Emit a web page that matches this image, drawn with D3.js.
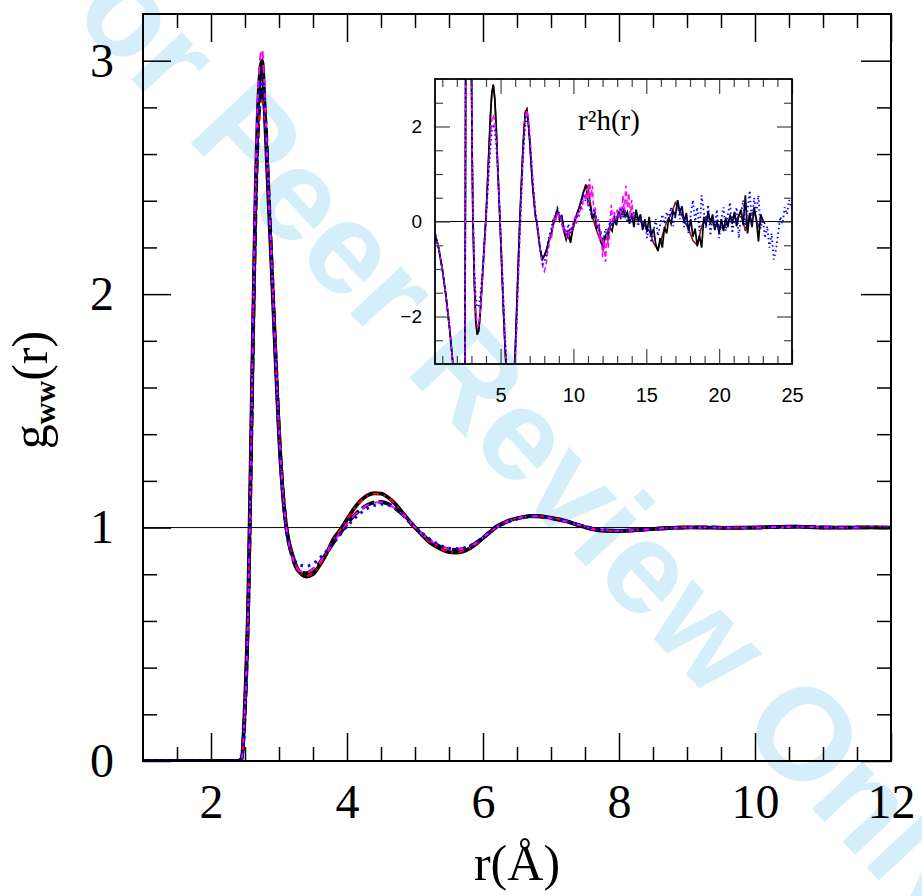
<!DOCTYPE html>
<html>
<head>
<meta charset="utf-8">
<script src="https://cdn.jsdelivr.net/npm/d3@7"></script>
<style>
  body { margin: 0; background: #fff; }
  svg { display: block; }
</style>
</head>
<body>
<div id="chart"></div>
<script>
(function () {
  const W = 922, H = 896;

  // ---- main panel data: g_ww(r) ----
  const rMain = [1.0, 2.3, 2.4, 2.45,
    2.5, 2.55, 2.6, 2.65, 2.7, 2.75, 2.8, 2.85, 2.9, 2.95, 3.0, 3.05, 3.1,
    3.2, 3.3, 3.4, 3.5, 3.6, 3.7, 3.8, 3.9, 4.0, 4.1, 4.2, 4.3, 4.4, 4.5, 4.6, 4.7, 4.8, 4.9,
    5.0, 5.1, 5.2, 5.3, 5.4, 5.5, 5.6, 5.7, 5.8, 5.9, 6.0, 6.1, 6.2, 6.3, 6.4, 6.5, 6.6, 6.7, 6.8, 6.9, 7.0,
    7.2, 7.4, 7.6, 7.8, 8.0, 8.2, 8.4, 8.6, 8.8, 9.0,
    9.3, 9.6, 10.0, 10.3, 10.6, 11.0, 11.4, 11.7, 12.0];

  const gSolid = [0, 0, 0, 0.01,
    0.25, 0.72, 1.55, 2.35, 2.85, 3.0, 2.72, 2.38, 2.06, 1.72, 1.40, 1.17, 1.02,
    0.88, 0.81, 0.79, 0.80, 0.84, 0.89, 0.95, 0.99, 1.035, 1.08, 1.115, 1.138, 1.147, 1.145, 1.13, 1.105, 1.07, 1.035,
    1.0, 0.97, 0.94, 0.92, 0.905, 0.895, 0.893, 0.897, 0.91, 0.93, 0.955, 0.98, 1.005, 1.02, 1.032, 1.04, 1.046, 1.05, 1.05, 1.047, 1.042,
    1.03, 1.01, 0.993, 0.986, 0.985, 0.988, 0.992, 0.996, 0.999, 1.001,
    1.0, 0.999, 1.0, 1.003, 1.004, 1.0, 1.0, 1.001, 1.0];

  const gDashed = [0, 0, 0, 0.01,
    0.22, 0.68, 1.5, 2.28, 2.75, 2.88, 2.75, 2.42, 2.08, 1.74, 1.42, 1.18, 1.02,
    0.87, 0.81, 0.805, 0.82, 0.85, 0.89, 0.935, 0.975, 1.015, 1.05, 1.078, 1.097, 1.108, 1.11, 1.102, 1.085, 1.06, 1.03,
    1.0, 0.972, 0.948, 0.93, 0.915, 0.907, 0.905, 0.908, 0.918, 0.935, 0.957, 0.98, 1.002, 1.018, 1.03, 1.039, 1.045, 1.048, 1.048, 1.045, 1.04,
    1.028, 1.012, 0.996, 0.988, 0.986, 0.988, 0.992, 0.996, 0.999, 1.0,
    1.001, 0.999, 1.0, 1.002, 1.004, 1.001, 1.0, 1.0, 1.0];

  const gRed = [0, 0, 0, 0.01,
    0.24, 0.70, 1.52, 2.3, 2.72, 2.83, 2.7, 2.4, 2.07, 1.73, 1.41, 1.17, 1.02,
    0.88, 0.812, 0.792, 0.802, 0.842, 0.892, 0.95, 0.99, 1.034, 1.078, 1.113, 1.136, 1.145, 1.143, 1.128, 1.104, 1.07, 1.036,
    1.001, 0.971, 0.942, 0.921, 0.906, 0.897, 0.894, 0.898, 0.91, 0.93, 0.955, 0.98, 1.004, 1.02, 1.032, 1.04, 1.046, 1.049, 1.05, 1.047, 1.042,
    1.03, 1.011, 0.994, 0.987, 0.985, 0.988, 0.992, 0.996, 0.999, 1.001,
    1.0, 1.0, 1.0, 1.002, 1.004, 1.0, 1.0, 1.001, 1.0];

  const gMagenta = [0, 0, 0, 0.01,
    0.23, 0.70, 1.55, 2.4, 2.92, 3.05, 2.78, 2.42, 2.08, 1.74, 1.42, 1.18, 1.02,
    0.87, 0.815, 0.808, 0.822, 0.852, 0.892, 0.936, 0.977, 1.016, 1.05, 1.077, 1.096, 1.107, 1.108, 1.1, 1.084, 1.06, 1.031,
    1.001, 0.973, 0.949, 0.931, 0.917, 0.908, 0.906, 0.909, 0.918, 0.935, 0.957, 0.98, 1.002, 1.018, 1.03, 1.039, 1.045, 1.048, 1.048, 1.045, 1.04,
    1.028, 1.012, 0.996, 0.988, 0.986, 0.988, 0.992, 0.996, 0.999, 1.0,
    1.001, 0.999, 1.0, 1.002, 1.004, 1.001, 1.0, 1.0, 1.0];

  const gBlue = [0, 0, 0, 0.01,
    0.22, 0.68, 1.5, 2.3, 2.8, 2.93, 2.74, 2.4, 2.06, 1.72, 1.40, 1.16, 1.0,
    0.88, 0.84, 0.835, 0.845, 0.87, 0.9, 0.935, 0.97, 1.005, 1.035, 1.062, 1.082, 1.095, 1.10, 1.097, 1.085, 1.062, 1.035,
    1.005, 0.978, 0.954, 0.935, 0.92, 0.912, 0.909, 0.912, 0.92, 0.936, 0.957, 0.98, 1.0, 1.016, 1.028, 1.037, 1.043, 1.046, 1.047, 1.045, 1.04,
    1.028, 1.013, 0.998, 0.99, 0.987, 0.989, 0.992, 0.996, 0.999, 1.0,
    1.0, 1.0, 0.999, 1.002, 1.004, 1.001, 1.0, 1.001, 1.0];

  // ---- inset data: r^2 h(r) ----
  const rInsetSmooth = [0.5, 0.75, 1.0, 1.25, 1.5, 1.75, 2.0, 2.3, 2.5, 2.55, 2.58, 2.61, 2.95, 3.0, 3.05, 3.1,
    3.2, 3.3, 3.4, 3.5, 3.6, 3.7, 3.8, 3.9, 4.0, 4.1, 4.2, 4.3, 4.4, 4.5, 4.6, 4.7, 4.8, 4.9,
    5.0, 5.1, 5.2, 5.3, 5.4, 5.5, 5.6, 5.7, 5.8, 5.9, 6.0, 6.1, 6.2, 6.3, 6.4, 6.5, 6.6, 6.7, 6.8, 6.9,
    7.0, 7.1, 7.2, 7.3, 7.4, 7.5, 7.6, 7.7, 7.8, 7.9, 8.0];

  const hBlackSmooth = [-0.25, -0.56, -1.0, -1.56, -2.25, -3.06, -4.0, -5.3, -6.2, -3.0, 0.0, 4.0, 6.0, 3.2, 1.4, 0.1,
    -1.3, -2.1, -2.38, -2.3, -1.95, -1.45, -0.95, -0.4, 0.1, 0.8, 1.5, 2.2, 2.7, 2.88, 2.6, 2.0, 1.2, 0.45,
    -0.3, -1.1, -1.9, -2.6, -3.2, -3.6, -3.8, -3.8, -3.6, -3.3, -2.8, -1.9, -1.0, -0.15, 0.6, 1.3, 1.9, 2.3, 2.36, 2.1,
    1.7, 1.2, 0.75, 0.4, 0.1, -0.05, -0.3, -0.55, -0.7, -0.78, -0.72];

  const hMagentaSmooth = [-0.25, -0.56, -1.0, -1.56, -2.25, -3.06, -4.0, -5.3, -6.2, -3.2, -0.2, 3.8, 6.3, 3.6, 1.6, 0.3,
    -1.1, -1.9, -2.2, -2.2, -1.9, -1.45, -1.0, -0.5, 0.0, 0.6, 1.2, 1.75, 2.15, 2.25, 2.1, 1.75, 1.2, 0.5,
    -0.2, -0.9, -1.7, -2.4, -3.0, -3.5, -3.8, -3.9, -3.8, -3.5, -3.05, -2.3, -1.4, -0.5, 0.35, 1.1, 1.7, 2.2, 2.35, 2.2,
    1.85, 1.4, 0.95, 0.55, 0.2, 0.0, -0.25, -0.55, -0.8, -0.95, -1.05];

  const hBlueSmooth = [-0.25, -0.56, -1.0, -1.56, -2.25, -3.06, -4.0, -5.3, -6.2, -3.1, -0.1, 3.9, 6.2, 3.5, 1.5, 0.2,
    -1.0, -1.6, -1.8, -1.8, -1.6, -1.25, -0.85, -0.4, 0.05, 0.55, 1.05, 1.55, 1.9, 2.0, 1.95, 1.6, 1.1, 0.45,
    -0.25, -0.95, -1.7, -2.35, -2.95, -3.4, -3.7, -3.8, -3.7, -3.4, -2.9, -2.1, -1.2, -0.35, 0.4, 1.1, 1.65, 2.05, 2.2, 2.05,
    1.75, 1.3, 0.85, 0.5, 0.15, -0.05, -0.3, -0.55, -0.75, -0.9, -0.85];

  // noisy tails, sampled every 0.15 from r = 8.15
  const tailStart = 8.15, tailStep = 0.15;
  const hBlackTail = [-0.62, -0.40, -0.32, -0.05, 0.12, 0.25, 0.02, 0.14, -0.22, -0.38,
    -0.18, -0.45, -0.12, 0.02, 0.18, 0.30, 0.45, 0.62, 0.78, 0.42,
    0.35, 0.05, 0.18, -0.15, -0.08, -0.42, -0.55, -0.30, -0.38, -0.12,
    -0.20, 0.05, -0.08, 0.22, 0.05, 0.28, 0.10, 0.20, -0.05, 0.18,
    -0.12, 0.25, 0.02, 0.15, -0.18, 0.05, -0.22, 0.10, -0.30, -0.15,
    -0.48, -0.62, -0.35, -0.55, -0.12, -0.25, 0.08, -0.05, 0.22, 0.12,
    0.45, 0.20, 0.32, -0.02, 0.18, -0.20, 0.05, -0.32, -0.15, -0.52,
    -0.30, -0.55, 0.10, -0.08, 0.22, -0.05, 0.15, -0.18, 0.02, -0.25,
    0.05, -0.20, 0.08, -0.12, 0.15, -0.05, 0.20, -0.10, 0.12, 0.25,
    -0.08, 0.55, -0.25, 0.18, -0.12, 0.30, 0.05, -0.42, 0.15, 0.02, -0.05];

  const hBlueTail = [-0.70, -0.35, -0.20, 0.05, 0.10, 0.28, 0.15, 0.05, -0.15, -0.28,
    -0.05, -0.25, -0.10, 0.05, 0.10, 0.22, 0.40, 0.55, 0.42, 0.50,
    0.20, 0.10, 0.25, -0.05, -0.20, -0.30, -0.38, -0.15, -0.25, 0.00,
    -0.10, 0.10, 0.00, 0.15, 0.25, 0.08, 0.20, 0.00, 0.12, -0.05,
    0.20, 0.05, -0.10, 0.12, -0.15, 0.00, -0.35, -0.10, -0.45, -0.20,
    0.05, -0.30, -0.08, 0.15, -0.05, 0.20, 0.05, 0.30, -0.10, 0.18,
    0.35, 0.05, 0.25, -0.12, 0.10, -0.25, 0.15, 0.45, 0.00, 0.30,
    -0.20, 0.55, 0.20, -0.15, 0.35, -0.30, 0.10, -0.10, 0.25, -0.35,
    0.05, 0.30, -0.20, 0.15, 0.40, -0.25, 0.05, 0.30, -0.35, 0.15,
    0.45, -0.10, 0.25, 0.65, -0.05, 0.50, 0.20, 0.55, -0.15, 0.05,
    -0.35, -0.10, -0.55, -0.25, -0.80, -0.60, -0.25, 0.10, -0.05, 0.30,
    0.15, 0.45, 0.30];

  // magenta tail, sampled every 0.1 from r = 8.1
  const magStart = 8.1, magStep = 0.1;
  const hMagentaTail = [-0.95, -0.70, -0.55, -0.30, -0.35, -0.05, 0.10, 0.05, 0.20, 0.10,
    0.15, -0.05, -0.20, -0.10, -0.35, -0.20, -0.30, -0.10, -0.20, 0.00,
    0.10, -0.05, 0.20, 0.10, 0.35, 0.25, 0.55, 0.45, 0.70, 0.30,
    0.90, 0.50, 0.75, 0.20, 0.30, -0.10, 0.05, -0.40, -0.20, -0.75,
    -0.40, -0.85, -0.30, -0.55, -0.10, 0.35, -0.05, 0.20, 0.05, 0.25,
    0.10, 0.30, 0.05, 0.55, 0.20, 0.75, 0.30, 0.60, 0.05, 0.45, 0.10];

  // dark red companion of the black curve, every 0.3 from r = 8.0
  const redStart = 8.0, redStep = 0.3;
  const hDarkRedTail = [-0.72, -0.45, -0.1, 0.2, 0.05, -0.3, -0.4, 0.0, 0.3, 0.65,
    0.75, 0.1, -0.2, -0.45, -0.3, -0.1, 0.0, 0.15, 0.15, 0.1,
    0.05, 0.1, 0.0, -0.1, -0.2, -0.45, -0.6, -0.3, 0.0, 0.15,
    0.4, 0.25, 0.0, -0.15, -0.4, -0.5, -0.1, 0.1, 0.05, -0.1,
    -0.1, -0.15, 0.0, 0.1, 0.05, 0.2, -0.2, 0.15, 0.2, -0.1, 0.05];

  const mainTicksX = [2, 4, 6, 8, 10, 12];
  const mainTicksY = [0, 1, 2, 3];
  const insetTicksX = [5, 10, 15, 20, 25];
  const insetTicksY = [-2, 0, 2];

  // ---- layout ----
  const svg = d3.select("#chart").append("svg")
    .attr("width", W).attr("height", H);

  svg.append("rect").attr("width", W).attr("height", H).attr("fill", "#fff");

  // watermark behind everything
  svg.append("text")
    .attr("transform", "translate(510,416) rotate(47)")
    .attr("text-anchor", "middle")
    .attr("dy", "0.36em")
    .attr("font-family", "Liberation Sans, Arial, sans-serif")
    .attr("font-weight", "bold")
    .attr("font-size", 131)
    .attr("fill", "#d4eefa")
    .text("For Peer Review Only");

  const x = d3.scaleLinear().domain([1, 12]).range([143, 891]);
  const y = d3.scaleLinear().domain([0, 3.2]).range([761, 14]);

  const xi = d3.scaleLinear().domain([0.5, 25]).range([435, 792]);
  const yi = d3.scaleLinear().domain([-3, 3]).range([364, 79]);

  const serif = "Liberation Serif, Times New Roman, serif";
  const sans = "Liberation Sans, Arial, sans-serif";

  function tickRow(axisGen, scale, vals, len, tx, ty, width, color) {
    svg.append("g")
      .attr("transform", `translate(${tx},${ty})`)
      .call(axisGen(scale).tickValues(vals).tickSize(-len).tickFormat(""))
      .call(g => g.select(".domain").remove())
      .call(g => g.selectAll("line").attr("stroke", color).attr("stroke-width", width));
  }

  // main panel: reference line at 1
  svg.append("line")
    .attr("x1", x(1)).attr("x2", x(12)).attr("y1", y(1)).attr("y2", y(1))
    .attr("stroke", "#000").attr("stroke-width", 1);

  svg.append("clipPath").attr("id", "clipMain").append("rect")
    .attr("x", x(1)).attr("y", y(3.2)).attr("width", x(12) - x(1)).attr("height", y(0) - y(3.2));

  const lineMain = d3.line().x(d => x(d[0])).y(d => y(d[1])).curve(d3.curveMonotoneX);

  const mainSeries = [
    { vals: gSolid, color: "#000", width: 3.8, dash: null },
    { vals: gDashed, color: "#000", width: 3.6, dash: "14,4" },
    { vals: gRed, color: "#ff0000", width: 2, dash: "6,5,2,5" },
    { vals: gMagenta, color: "#ff00ff", width: 2, dash: "8,6" },
    { vals: gBlue, color: "#0000ff", width: 3, dash: "2.5,5" }
  ];

  svg.append("g").attr("clip-path", "url(#clipMain)")
    .selectAll("path")
    .data(mainSeries)
    .join("path")
    .attr("d", s => lineMain(rMain.map((r, i) => [r, s.vals[i]])))
    .attr("fill", "none")
    .attr("stroke", s => s.color)
    .attr("stroke-width", s => s.width)
    .attr("stroke-dasharray", s => s.dash)
    .attr("stroke-linejoin", "round");

  // main ticks: majors and minors on all four sides
  const minorX = d3.range(1.5, 12, 0.5).filter(v => v % 2 !== 0);
  const minorY = d3.range(0.2, 3.2, 0.2).map(v => +v.toFixed(1)).filter(v => v % 1 !== 0);
  tickRow(d3.axisBottom, x, mainTicksX, 28, 0, y(0), 1.5, "#000");
  tickRow(d3.axisBottom, x, minorX, 14, 0, y(0), 1.5, "#000");
  tickRow(d3.axisTop, x, mainTicksX, 28, 0, y(3.2), 1.5, "#000");
  tickRow(d3.axisTop, x, minorX, 14, 0, y(3.2), 1.5, "#000");
  tickRow(d3.axisLeft, y, mainTicksY, 28, x(1), 0, 1.5, "#000");
  tickRow(d3.axisLeft, y, minorY, 14, x(1), 0, 1.5, "#000");
  tickRow(d3.axisRight, y, mainTicksY, 30, x(12), 0, 1.5, "#000");
  tickRow(d3.axisRight, y, minorY, 14, x(12), 0, 1.5, "#000");

  svg.append("rect")
    .attr("x", x(1)).attr("y", y(3.2))
    .attr("width", x(12) - x(1)).attr("height", y(0) - y(3.2))
    .attr("fill", "none").attr("stroke", "#000").attr("stroke-width", 2);

  // main tick labels
  svg.append("g")
    .attr("transform", `translate(0,${y(0)})`)
    .call(d3.axisBottom(x).tickValues(mainTicksX).tickSize(0).tickPadding(23).tickFormat(d3.format("d")))
    .call(g => g.select(".domain").remove())
    .attr("font-family", serif).attr("font-size", 48);

  svg.append("g")
    .attr("transform", `translate(${x(1)},0)`)
    .call(d3.axisLeft(y).tickValues(mainTicksY).tickSize(0).tickPadding(29).tickFormat(d3.format("d")))
    .call(g => g.select(".domain").remove())
    .attr("font-family", serif).attr("font-size", 48);

  // axis titles
  svg.append("text")
    .attr("x", (x(1) + x(12)) / 2).attr("y", 880)
    .attr("text-anchor", "middle")
    .attr("font-family", serif).attr("font-size", 50)
    .text("r(Å)");

  const yTitle = svg.append("text")
    .attr("transform", "translate(47,390) rotate(-90)")
    .attr("text-anchor", "middle")
    .attr("font-family", serif).attr("font-size", 50);
  yTitle.append("tspan").text("g");
  yTitle.append("tspan").attr("dy", 8).attr("font-size", 30).attr("font-weight", "bold").text("ww");
  yTitle.append("tspan").attr("dy", -8).text("(r)");

  // ---- inset ----
  svg.append("line")
    .attr("x1", xi(0.5)).attr("x2", xi(25)).attr("y1", yi(0)).attr("y2", yi(0))
    .attr("stroke", "#000").attr("stroke-width", 1);

  svg.append("clipPath").attr("id", "clipInset").append("rect")
    .attr("x", xi(0.5)).attr("y", yi(3)).attr("width", xi(25) - xi(0.5)).attr("height", yi(-3) - yi(3));

  const lineInset = d3.line().x(d => xi(d[0])).y(d => yi(d[1]));

  const tailPts = (vals, start, step) => vals.map((v, i) => [+(start + i * step).toFixed(2), v]);
  const smoothPts = vals => rInsetSmooth.map((r, i) => [r, vals[i]]);

  const insetSeries = [
    { pts: smoothPts(hBlackSmooth).concat(tailPts(hDarkRedTail, redStart, redStep).slice(1)), color: "#8b1c1c", width: 1.6, dash: null },
    { pts: smoothPts(hBlackSmooth).concat(tailPts(hBlackTail, tailStart, tailStep)), color: "#000", width: 1.7, dash: null },
    { pts: smoothPts(hMagentaSmooth).concat(tailPts(hMagentaTail, magStart, magStep)), color: "#ff00ff", width: 1.6, dash: "5,3" },
    { pts: smoothPts(hBlueSmooth).concat(tailPts(hBlueTail, tailStart, tailStep)), color: "#0000ff", width: 1.8, dash: "1.5,3" }
  ];

  svg.append("g").attr("clip-path", "url(#clipInset)")
    .selectAll("path")
    .data(insetSeries)
    .join("path")
    .attr("d", s => lineInset(s.pts))
    .attr("fill", "none")
    .attr("stroke", s => s.color)
    .attr("stroke-width", s => s.width)
    .attr("stroke-dasharray", s => s.dash);

  const insetMinorX = d3.range(1, 25, 1).filter(v => v % 5 !== 0);
  const insetMinorY = [-2.5, -1.5, -1, -0.5, 0.5, 1, 1.5, 2.5];
  tickRow(d3.axisBottom, xi, insetTicksX, 15, 0, yi(-3), 1.2, "#444");
  tickRow(d3.axisBottom, xi, insetMinorX, 8, 0, yi(-3), 1.2, "#444");
  tickRow(d3.axisTop, xi, insetTicksX, 15, 0, yi(3), 1.2, "#444");
  tickRow(d3.axisTop, xi, insetMinorX, 8, 0, yi(3), 1.2, "#444");
  tickRow(d3.axisLeft, yi, insetTicksY, 15, xi(0.5), 0, 1.2, "#444");
  tickRow(d3.axisLeft, yi, insetMinorY, 8, xi(0.5), 0, 1.2, "#444");
  tickRow(d3.axisRight, yi, insetTicksY, 15, xi(25), 0, 1.2, "#444");
  tickRow(d3.axisRight, yi, insetMinorY, 8, xi(25), 0, 1.2, "#444");

  svg.append("rect")
    .attr("x", xi(0.5)).attr("y", yi(3))
    .attr("width", xi(25) - xi(0.5)).attr("height", yi(-3) - yi(3))
    .attr("fill", "none").attr("stroke", "#000").attr("stroke-width", 1.8);

  svg.append("g")
    .attr("transform", `translate(0,${yi(-3)})`)
    .call(d3.axisBottom(xi).tickValues(insetTicksX).tickSize(0).tickPadding(24).tickFormat(d3.format("d")))
    .call(g => g.select(".domain").remove())
    .attr("font-family", sans).attr("font-size", 20);

  svg.append("g")
    .attr("transform", `translate(${xi(0.5)},0)`)
    .call(d3.axisLeft(yi).tickValues(insetTicksY).tickSize(0).tickPadding(13).tickFormat(d3.format("d")))
    .call(g => g.select(".domain").remove())
    .attr("font-family", sans).attr("font-size", 19);

  svg.append("text")
    .attr("x", 609).attr("y", 130)
    .attr("text-anchor", "middle")
    .attr("font-family", serif).attr("font-size", 29)
    .text("r²h(r)");
})();
</script>
</body>
</html>
